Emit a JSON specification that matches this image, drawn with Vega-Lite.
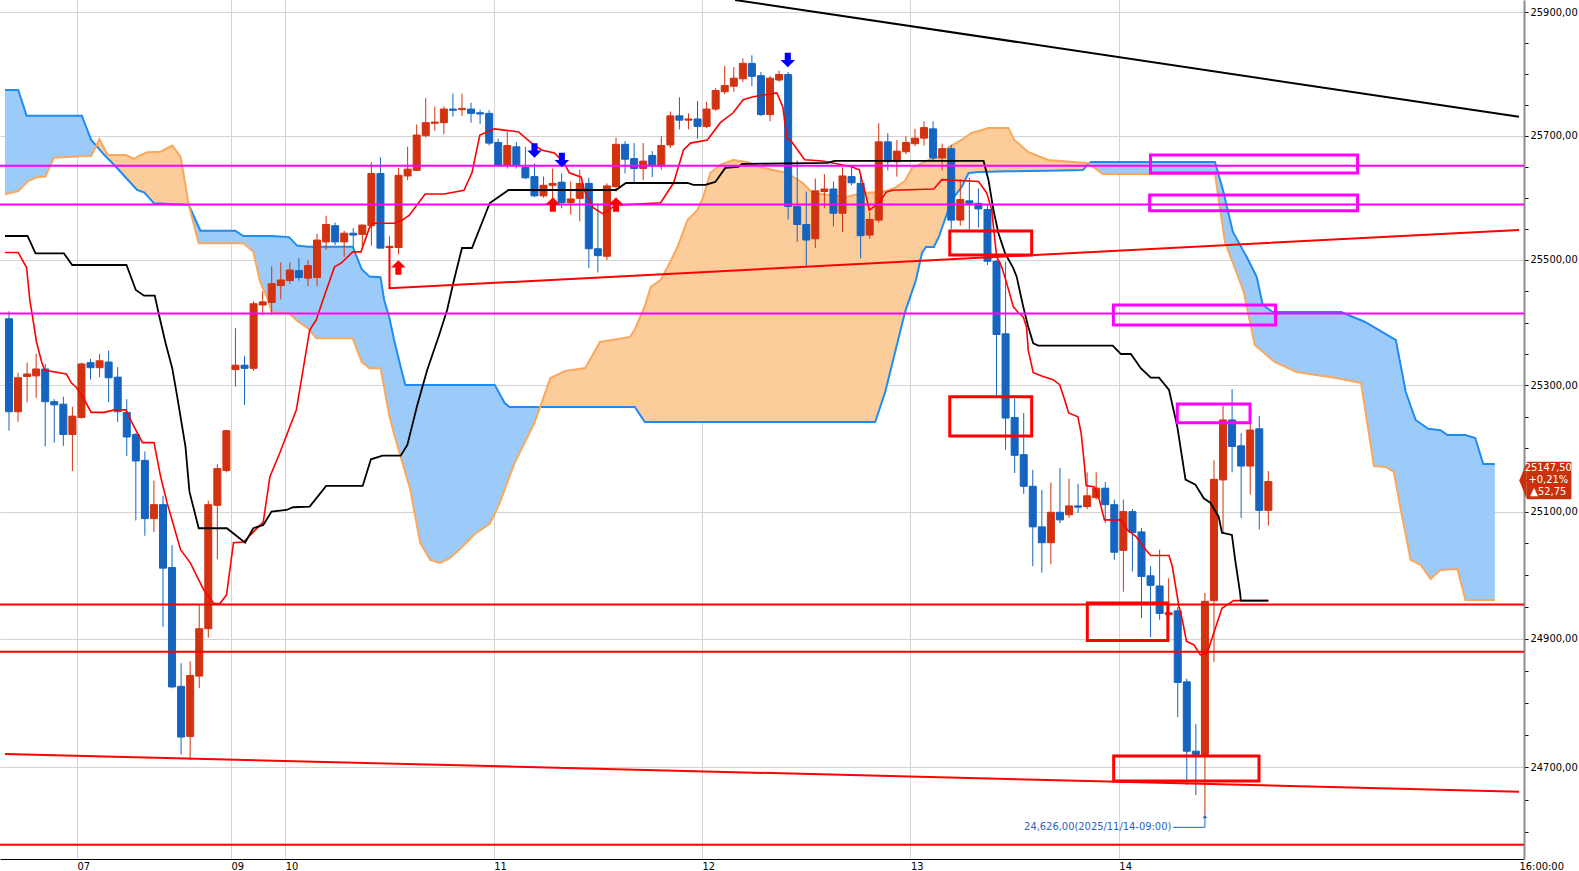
{
"$schema": "https://vega.github.io/schema/vega-lite/v6.json",
"width": 1524, "height": 859,
"autosize": {"type": "none"},
"padding": {"left": 0, "top": 0, "right": 55, "bottom": 12},
"background": "white",
"config": {"view": {"stroke": null}, "font": "DejaVu Sans Condensed, Liberation Sans Narrow, DejaVu Sans, sans-serif"},
"resolve": {"scale": {"color": "independent"}},
"datasets": {
"cloud": [
{"i":-0.44,"a":25773.9,"b":25605.5,"s":1,"k":"b"},{"i":1.02,"a":25773.9,"b":25610.8,"s":1,"k":"b"},{"i":1.94,"a":25732.3,"b":25624.3,"s":1,"k":"b"},{"i":2.12,"a":25732.3,"b":25626.9,"s":1,"k":"b"},{"i":3.04,"a":25732.3,"b":25632.9,"s":1,"k":"b"},{"i":4.02,"a":25732.3,"b":25633.9,"s":1,"k":"b"},{"i":4.97,"a":25732.3,"b":25664.5,"s":1,"k":"b"},{"i":8.04,"a":25732.3,"b":25666.6,"s":1,"k":"b"},{"i":9.07,"a":25693.1,"b":25667.2,"s":1,"k":"b"},{"i":9.63,"a":25683.7,"b":25683.7,"s":1,"k":"b"},
{"i":9.63,"a":25683.7,"b":25683.7,"s":2,"k":"o"},{"i":9.98,"a":25677.9,"b":25694.2,"s":2,"k":"o"},{"i":10.53,"a":25668.8,"b":25678.8,"s":2,"k":"o"},{"i":10.89,"a":25663.5,"b":25668.8,"s":2,"k":"o"},{"i":11.62,"a":25652.7,"b":25668.8,"s":2,"k":"o"},{"i":12.91,"a":25632.2,"b":25668.8,"s":2,"k":"o"},{"i":13.82,"a":25617.7,"b":25662.4,"s":2,"k":"o"},{"i":14.14,"a":25612.4,"b":25665.3,"s":2,"k":"o"},{"i":14.55,"a":25610.5,"b":25668.8,"s":2,"k":"o"},{"i":14.91,"a":25608.7,"b":25671.1,"s":2,"k":"o"},{"i":15.27,"a":25602.9,"b":25673.2,"s":2,"k":"o"},{"i":16.01,"a":25591.0,"b":25673.7,"s":2,"k":"o"},{"i":16.74,"a":25590.5,"b":25674.2,"s":2,"k":"o"},{"i":18.02,"a":25589.6,"b":25683.9,"s":2,"k":"o"},{"i":18.94,"a":25588.9,"b":25666.1,"s":2,"k":"o"},{"i":19.48,"a":25588.6,"b":25620.5,"s":2,"k":"o"},{"i":19.85,"a":25588.3,"b":25588.3,"s":2,"k":"o"},
{"i":19.85,"a":25588.3,"b":25588.3,"s":3,"k":"b"},{"i":20.94,"a":25552.9,"b":25526.8,"s":3,"k":"b"},{"i":21.13,"a":25547.0,"b":25526.8,"s":3,"k":"b"},{"i":24.97,"a":25547.0,"b":25526.8,"s":3,"k":"b"},{"i":25.88,"a":25538.5,"b":25526.8,"s":3,"k":"b"},{"i":26.97,"a":25538.5,"b":25513.3,"s":3,"k":"b"},{"i":27.71,"a":25538.5,"b":25465.3,"s":3,"k":"b"},{"i":28.62,"a":25538.5,"b":25436.0,"s":3,"k":"b"},{"i":28.98,"a":25538.5,"b":25416.4,"s":3,"k":"b"},{"i":30.92,"a":25536.7,"b":25414.8,"s":3,"k":"b"},{"i":31.8,"a":25523.1,"b":25402.8,"s":3,"k":"b"},{"i":33.0,"a":25521.3,"b":25390.9,"s":3,"k":"b"},{"i":33.91,"a":25521.3,"b":25374.9,"s":3,"k":"b"},{"i":37.94,"a":25521.3,"b":25374.9,"s":3,"k":"b"},{"i":38.93,"a":25485.3,"b":25337.3,"s":3,"k":"b"},{"i":39.8,"a":25473.4,"b":25327.1,"s":3,"k":"b"},{"i":41.01,"a":25472.3,"b":25327.1,"s":3,"k":"b"},{"i":41.41,"a":25436.0,"b":25296.9,"s":3,"k":"b"},{"i":41.96,"a":25409.3,"b":25252.9,"s":3,"k":"b"},{"i":42.51,"a":25372.2,"b":25222.8,"s":3,"k":"b"},{"i":43.23,"a":25329.6,"b":25186.8,"s":3,"k":"b"},{"i":43.75,"a":25300.6,"b":25161.4,"s":3,"k":"b"},{"i":44.3,"a":25300.6,"b":25134.2,"s":3,"k":"b"},{"i":45.39,"a":25300.6,"b":25050.6,"s":3,"k":"b"},{"i":46.49,"a":25300.6,"b":25023.9,"s":3,"k":"b"},{"i":47.59,"a":25300.6,"b":25019.2,"s":3,"k":"b"},{"i":48.68,"a":25300.6,"b":25027.0,"s":3,"k":"b"},{"i":49.78,"a":25300.6,"b":25041.2,"s":3,"k":"b"},{"i":51.43,"a":25300.6,"b":25064.8,"s":3,"k":"b"},{"i":53.07,"a":25300.6,"b":25080.6,"s":3,"k":"b"},{"i":53.62,"a":25300.6,"b":25097.1,"s":3,"k":"b"},{"i":54.17,"a":25286.2,"b":25113.7,"s":3,"k":"b"},{"i":54.71,"a":25271.9,"b":25134.7,"s":3,"k":"b"},{"i":55.26,"a":25265.5,"b":25155.9,"s":3,"k":"b"},{"i":55.81,"a":25265.5,"b":25176.9,"s":3,"k":"b"},{"i":58.0,"a":25265.5,"b":25240.2,"s":3,"k":"b"},{"i":58.63,"a":25265.5,"b":25265.5,"s":3,"k":"b"},
{"i":58.63,"a":25265.5,"b":25265.5,"s":4,"k":"o"},{"i":59.76,"a":25265.5,"b":25311.7,"s":4,"k":"o"},{"i":61.4,"a":25265.5,"b":25322.8,"s":4,"k":"o"},{"i":63.6,"a":25265.5,"b":25327.6,"s":4,"k":"o"},{"i":65.24,"a":25265.5,"b":25369.0,"s":4,"k":"o"},{"i":68.53,"a":25265.5,"b":25377.0,"s":4,"k":"o"},{"i":69.08,"a":25265.5,"b":25389.0,"s":4,"k":"o"},{"i":70.18,"a":25241.8,"b":25426.3,"s":4,"k":"o"},{"i":70.83,"a":25241.8,"b":25456.8,"s":4,"k":"o"},{"i":71.93,"a":25241.8,"b":25468.0,"s":4,"k":"o"},{"i":72.7,"a":25241.8,"b":25488.8,"s":4,"k":"o"},{"i":73.79,"a":25241.8,"b":25520.8,"s":4,"k":"o"},{"i":74.89,"a":25241.8,"b":25564.2,"s":4,"k":"o"},{"i":75.99,"a":25241.8,"b":25580.2,"s":4,"k":"o"},{"i":76.64,"a":25241.8,"b":25601.1,"s":4,"k":"o"},{"i":77.41,"a":25241.8,"b":25639.8,"s":4,"k":"o"},{"i":78.51,"a":25241.8,"b":25652.7,"s":4,"k":"o"},{"i":79.93,"a":25241.8,"b":25660.8,"s":4,"k":"o"},{"i":81.47,"a":25241.8,"b":25657.6,"s":4,"k":"o"},{"i":82.89,"a":25241.8,"b":25649.5,"s":4,"k":"o"},{"i":84.32,"a":25241.8,"b":25644.7,"s":4,"k":"o"},{"i":85.86,"a":25241.8,"b":25639.8,"s":4,"k":"o"},{"i":87.61,"a":25241.8,"b":25623.7,"s":4,"k":"o"},{"i":88.71,"a":25241.8,"b":25607.6,"s":4,"k":"o"},{"i":90.57,"a":25241.8,"b":25604.4,"s":4,"k":"o"},{"i":92.43,"a":25241.8,"b":25601.1,"s":4,"k":"o"},{"i":94.19,"a":25241.8,"b":25607.6,"s":4,"k":"o"},{"i":95.61,"a":25241.8,"b":25608.9,"s":4,"k":"o"},{"i":96.71,"a":25289.4,"b":25610.7,"s":4,"k":"o"},{"i":97.81,"a":25353.0,"b":25615.8,"s":4,"k":"o"},{"i":98.9,"a":25416.8,"b":25627.4,"s":4,"k":"o"},{"i":99.67,"a":25449.4,"b":25647.9,"s":4,"k":"o"},{"i":100.11,"a":25468.0,"b":25650.9,"s":4,"k":"o"},{"i":100.77,"a":25511.2,"b":25655.5,"s":4,"k":"o"},{"i":101.21,"a":25520.8,"b":25658.5,"s":4,"k":"o"},{"i":101.54,"a":25520.8,"b":25660.8,"s":4,"k":"o"},{"i":102.08,"a":25520.8,"b":25663.2,"s":4,"k":"o"},{"i":102.63,"a":25536.9,"b":25665.6,"s":4,"k":"o"},{"i":103.4,"a":25569.0,"b":25676.9,"s":4,"k":"o"},{"i":103.73,"a":25582.6,"b":25681.7,"s":4,"k":"o"},{"i":104.06,"a":25596.3,"b":25684.3,"s":4,"k":"o"},{"i":105.15,"a":25617.2,"b":25693.1,"s":4,"k":"o"},{"i":105.92,"a":25639.8,"b":25701.0,"s":4,"k":"o"},{"i":106.25,"a":25640.3,"b":25704.4,"s":4,"k":"o"},{"i":107.02,"a":25641.4,"b":25707.6,"s":4,"k":"o"},{"i":108.11,"a":25641.7,"b":25712.5,"s":4,"k":"o"},{"i":110.31,"a":25642.4,"b":25712.5,"s":4,"k":"o"},{"i":110.96,"a":25642.5,"b":25693.1,"s":4,"k":"o"},{"i":112.5,"a":25643.0,"b":25673.7,"s":4,"k":"o"},{"i":114.69,"a":25643.5,"b":25660.8,"s":4,"k":"o"},{"i":118.53,"a":25644.7,"b":25656.3,"s":4,"k":"o"},{"i":119.19,"a":25655.1,"b":25655.1,"s":4,"k":"o"},
{"i":119.19,"a":25655.1,"b":25655.1,"s":5,"k":"b"},{"i":119.41,"a":25657.6,"b":25652.4,"s":5,"k":"b"},{"i":120.72,"a":25657.6,"b":25638.2,"s":5,"k":"b"},{"i":133.11,"a":25657.6,"b":25638.2,"s":5,"k":"b"},{"i":133.99,"a":25612.4,"b":25550.7,"s":5,"k":"b"},{"i":134.21,"a":25598.9,"b":25528.8,"s":5,"k":"b"},{"i":135.09,"a":25544.9,"b":25495.2,"s":5,"k":"b"},{"i":136.29,"a":25513.4,"b":25448.8,"s":5,"k":"b"},{"i":136.62,"a":25504.8,"b":25425.6,"s":5,"k":"b"},{"i":137.5,"a":25479.2,"b":25364.2,"s":5,"k":"b"},{"i":137.72,"a":25472.8,"b":25361.5,"s":5,"k":"b"},{"i":138.38,"a":25428.0,"b":25353.3,"s":5,"k":"b"},{"i":139.47,"a":25416.8,"b":25339.8,"s":5,"k":"b"},{"i":139.69,"a":25416.8,"b":25337.1,"s":5,"k":"b"},{"i":142.11,"a":25416.8,"b":25321.2,"s":5,"k":"b"},{"i":146.49,"a":25416.8,"b":25311.7,"s":5,"k":"b"},{"i":147.04,"a":25416.8,"b":25310.1,"s":5,"k":"b"},{"i":149.23,"a":25403.6,"b":25303.8,"s":5,"k":"b"},{"i":149.67,"a":25400.9,"b":25263.2,"s":5,"k":"b"},{"i":150.66,"a":25392.6,"b":25172.1,"s":5,"k":"b"},{"i":151.97,"a":25381.4,"b":25170.5,"s":5,"k":"b"},{"i":152.85,"a":25374.1,"b":25162.6,"s":5,"k":"b"},{"i":153.07,"a":25372.2,"b":25145.4,"s":5,"k":"b"},{"i":153.62,"a":25330.8,"b":25102.6,"s":5,"k":"b"},{"i":154.17,"a":25289.4,"b":25063.2,"s":5,"k":"b"},{"i":154.71,"a":25267.2,"b":25023.9,"s":5,"k":"b"},{"i":155.26,"a":25245.0,"b":25020.0,"s":5,"k":"b"},{"i":155.81,"a":25239.4,"b":25016.1,"s":5,"k":"b"},{"i":156.69,"a":25230.7,"b":24998.4,"s":5,"k":"b"},{"i":156.91,"a":25230.7,"b":24994.0,"s":5,"k":"b"},{"i":158.0,"a":25228.7,"b":25008.2,"s":5,"k":"b"},{"i":158.77,"a":25221.2,"b":25008.8,"s":5,"k":"b"},{"i":159.87,"a":25221.2,"b":25009.7,"s":5,"k":"b"},{"i":160.75,"a":25221.2,"b":24961.0,"s":5,"k":"b"},{"i":161.84,"a":25216.5,"b":24961.0,"s":5,"k":"b"},{"i":162.72,"a":25175.3,"b":24961.0,"s":5,"k":"b"},{"i":164.0,"a":25175.3,"b":24961.0,"s":5,"k":"b"}
],
"candles": [
{"i":0,"o":25406,"h":25418,"l":25228,"c":25258},{"i":1,"o":25258,"h":25320,"l":25242,"c":25312},{"i":2,"o":25314,"h":25336,"l":25273,"c":25318},{"i":3,"o":25315,"h":25350,"l":25280,"c":25326},{"i":4,"o":25326,"h":25334,"l":25203,"c":25274},{"i":5,"o":25274,"h":25278,"l":25209,"c":25269},{"i":6,"o":25270,"h":25282,"l":25204,"c":25222},{"i":7,"o":25222,"h":25266,"l":25164,"c":25251},{"i":8,"o":25249,"h":25336,"l":25247,"c":25334},{"i":9,"o":25336,"h":25342,"l":25309,"c":25328},
{"i":10,"o":25328,"h":25350,"l":25313,"c":25339},{"i":11,"o":25337,"h":25355,"l":25273,"c":25312},{"i":12,"o":25313,"h":25329,"l":25242,"c":25258},{"i":13,"o":25257,"h":25278,"l":25188,"c":25218},{"i":14,"o":25222,"h":25224,"l":25086,"c":25180},{"i":15,"o":25181,"h":25195,"l":25062,"c":25089},{"i":16,"o":25089,"h":25149,"l":25068,"c":25111},{"i":17,"o":25111,"h":25125,"l":24919,"c":25011},{"i":18,"o":25012,"h":25047,"l":24823,"c":24825},{"i":19,"o":24826,"h":24862,"l":24720,"c":24747},
{"i":20,"o":24748,"h":24865,"l":24711,"c":24843},{"i":21,"o":24842,"h":24953,"l":24823,"c":24916},{"i":22,"o":24916,"h":25117,"l":24902,"c":25111},{"i":23,"o":25110,"h":25175,"l":25025,"c":25168},{"i":24,"o":25165,"h":25229,"l":25162,"c":25228},{"i":25,"o":25325,"h":25391,"l":25298,"c":25332},{"i":26,"o":25332,"h":25347,"l":25269,"c":25327},{"i":27,"o":25327,"h":25434,"l":25323,"c":25430},{"i":28,"o":25428,"h":25450,"l":25412,"c":25433},{"i":29,"o":25432,"h":25490,"l":25412,"c":25462},
{"i":30,"o":25459,"h":25496,"l":25437,"c":25468},{"i":31,"o":25467,"h":25496,"l":25462,"c":25484},{"i":32,"o":25483,"h":25503,"l":25467,"c":25472},{"i":33,"o":25471,"h":25500,"l":25458,"c":25491},{"i":34,"o":25472,"h":25542,"l":25458,"c":25532},{"i":35,"o":25529,"h":25571,"l":25516,"c":25557},{"i":36,"o":25555,"h":25560,"l":25524,"c":25529},{"i":37,"o":25529,"h":25547,"l":25505,"c":25543},{"i":38,"o":25543,"h":25551,"l":25521,"c":25540},{"i":39,"o":25541,"h":25557,"l":25521,"c":25556},
{"i":40,"o":25555,"h":25657,"l":25523,"c":25639},{"i":41,"o":25639,"h":25665,"l":25519,"c":25519},{"i":42,"o":25520,"h":25538,"l":25516,"c":25522},{"i":43,"o":25520,"h":25648,"l":25509,"c":25636},{"i":44,"o":25635,"h":25682,"l":25628,"c":25646},{"i":45,"o":25644,"h":25718,"l":25643,"c":25701},{"i":46,"o":25700,"h":25761,"l":25697,"c":25721},{"i":47,"o":25720,"h":25747,"l":25708,"c":25722},{"i":48,"o":25721,"h":25747,"l":25702,"c":25743},{"i":49,"o":25743,"h":25768,"l":25731,"c":25741},
{"i":50,"o":25742,"h":25768,"l":25732,"c":25744},{"i":51,"o":25743,"h":25753,"l":25721,"c":25736},{"i":52,"o":25737,"h":25742,"l":25719,"c":25735},{"i":53,"o":25736,"h":25741,"l":25684,"c":25688},{"i":54,"o":25689,"h":25695,"l":25650,"c":25652},{"i":55,"o":25652,"h":25706,"l":25647,"c":25684},{"i":56,"o":25682,"h":25690,"l":25647,"c":25652},{"i":57,"o":25649,"h":25682,"l":25630,"c":25632},{"i":58,"o":25634,"h":25655,"l":25601,"c":25603},{"i":59,"o":25603,"h":25634,"l":25600,"c":25620},
{"i":60,"o":25620,"h":25647,"l":25591,"c":25623},{"i":61,"o":25625,"h":25639,"l":25583,"c":25592},{"i":62,"o":25592,"h":25626,"l":25573,"c":25598},{"i":63,"o":25599,"h":25645,"l":25562,"c":25623},{"i":64,"o":25623,"h":25632,"l":25487,"c":25518},{"i":65,"o":25518,"h":25591,"l":25480,"c":25507},{"i":66,"o":25506,"h":25623,"l":25500,"c":25619},{"i":67,"o":25618,"h":25697,"l":25610,"c":25686},{"i":68,"o":25686,"h":25691,"l":25639,"c":25662},{"i":69,"o":25663,"h":25688,"l":25622,"c":25647},
{"i":70,"o":25647,"h":25688,"l":25628,"c":25659},{"i":71,"o":25668,"h":25675,"l":25633,"c":25651},{"i":72,"o":25651,"h":25699,"l":25645,"c":25684},{"i":73,"o":25685,"h":25739,"l":25680,"c":25732},{"i":74,"o":25732,"h":25762,"l":25710,"c":25725},{"i":75,"o":25725,"h":25736,"l":25710,"c":25727},{"i":76,"o":25727,"h":25756,"l":25695,"c":25715},{"i":77,"o":25715,"h":25755,"l":25712,"c":25743},{"i":78,"o":25743,"h":25777,"l":25740,"c":25773},{"i":79,"o":25771,"h":25813,"l":25767,"c":25781},
{"i":80,"o":25780,"h":25811,"l":25771,"c":25793},{"i":81,"o":25792,"h":25825,"l":25787,"c":25817},{"i":82,"o":25817,"h":25830,"l":25780,"c":25796},{"i":83,"o":25797,"h":25803,"l":25732,"c":25734},{"i":84,"o":25734,"h":25797,"l":25723,"c":25793},{"i":85,"o":25790,"h":25805,"l":25787,"c":25799},{"i":86,"o":25799,"h":25803,"l":25565,"c":25586},{"i":87,"o":25586,"h":25660,"l":25529,"c":25557},{"i":88,"o":25557,"h":25610,"l":25490,"c":25532},{"i":89,"o":25534,"h":25631,"l":25519,"c":25611},
{"i":90,"o":25610,"h":25638,"l":25583,"c":25614},{"i":91,"o":25614,"h":25626,"l":25554,"c":25575},{"i":92,"o":25575,"h":25649,"l":25545,"c":25635},{"i":93,"o":25634,"h":25652,"l":25620,"c":25624},{"i":94,"o":25623,"h":25636,"l":25503,"c":25539},{"i":95,"o":25540,"h":25577,"l":25534,"c":25565},{"i":96,"o":25564,"h":25720,"l":25560,"c":25690},{"i":97,"o":25690,"h":25704,"l":25644,"c":25658},{"i":98,"o":25658,"h":25693,"l":25634,"c":25675},{"i":99,"o":25674,"h":25699,"l":25670,"c":25689},
{"i":100,"o":25687,"h":25711,"l":25683,"c":25696},{"i":101,"o":25696,"h":25723,"l":25684,"c":25713},{"i":102,"o":25711,"h":25723,"l":25660,"c":25664},{"i":103,"o":25664,"h":25687,"l":25644,"c":25679},{"i":104,"o":25679,"h":25685,"l":25549,"c":25564},{"i":105,"o":25564,"h":25630,"l":25555,"c":25597},{"i":106,"o":25595,"h":25632,"l":25549,"c":25591},{"i":107,"o":25591,"h":25615,"l":25552,"c":25582},{"i":108,"o":25581,"h":25590,"l":25492,"c":25498},{"i":109,"o":25498,"h":25500,"l":25282,"c":25381},
{"i":110,"o":25382,"h":25497,"l":25198,"c":25248},{"i":111,"o":25249,"h":25279,"l":25161,"c":25189},{"i":112,"o":25190,"h":25256,"l":25128,"c":25140},{"i":113,"o":25140,"h":25166,"l":25014,"c":25076},{"i":114,"o":25076,"h":25134,"l":25004,"c":25051},{"i":115,"o":25051,"h":25146,"l":25017,"c":25099},{"i":116,"o":25099,"h":25169,"l":25082,"c":25087},{"i":117,"o":25095,"h":25152,"l":25090,"c":25109},{"i":118,"o":25109,"h":25144,"l":25098,"c":25107},{"i":119,"o":25108,"h":25162,"l":25104,"c":25125},
{"i":120,"o":25122,"h":25162,"l":25119,"c":25137},{"i":121,"o":25137,"h":25147,"l":25082,"c":25111},{"i":122,"o":25111,"h":25119,"l":25024,"c":25036},{"i":123,"o":25039,"h":25119,"l":24974,"c":25100},{"i":124,"o":25100,"h":25104,"l":25006,"c":25067},{"i":125,"o":25068,"h":25074,"l":24933,"c":24998},{"i":126,"o":24999,"h":25014,"l":24903,"c":24984},{"i":127,"o":24983,"h":25040,"l":24930,"c":24940},{"i":128,"o":24938,"h":24995,"l":24935,"c":24941},{"i":129,"o":24944,"h":24950,"l":24778,"c":24832},
{"i":130,"o":24833,"h":24838,"l":24673,"c":24725},{"i":131,"o":24725,"h":24767,"l":24657,"c":24720},{"i":132,"o":24720,"h":24972,"l":24626,"c":24959},{"i":133,"o":24960,"h":25181,"l":24864,"c":25151},{"i":134,"o":25150,"h":25268,"l":25066,"c":25245},{"i":135,"o":25245,"h":25294,"l":25162,"c":25203},{"i":136,"o":25204,"h":25224,"l":25090,"c":25172},{"i":137,"o":25172,"h":25240,"l":25127,"c":25229},{"i":138,"o":25231,"h":25251,"l":25072,"c":25102},{"i":139,"o":25102,"h":25164,"l":25078,"c":25147.5}
],
"tenkan": [
{"t":-0.44,"v":25512},{"t":1.02,"v":25512},{"t":1.94,"v":25488},{"t":2.3,"v":25436},{"t":2.66,"v":25404},{"t":3.04,"v":25369},{"t":3.59,"v":25338},{"t":3.95,"v":25324},{"t":6.33,"v":25318},{"t":6.88,"v":25304},{"t":7.42,"v":25297},{"t":8.33,"v":25277},{"t":9.07,"v":25257},{"t":10.53,"v":25257},{"t":11.62,"v":25261},{"t":12.9,"v":25261},{"t":13.63,"v":25239},{"t":14.73,"v":25209},{"t":16.01,"v":25209},{"t":16.74,"v":25155},{"t":17.47,"v":25113},{"t":18.94,"v":25040},{"t":20.03,"v":25019},{"t":21.49,"v":24977},{"t":22.59,"v":24956},{"t":23.25,"v":24955},{"t":24.01,"v":24969},{"t":24.78,"v":25051},{"t":25.88,"v":25052},{"t":28.07,"v":25084},{"t":28.8,"v":25155},{"t":29.9,"v":25193},{"t":31.72,"v":25261},{"t":33.19,"v":25388},{"t":33.91,"v":25404},{"t":34.65,"v":25436},{"t":35.93,"v":25489},{"t":36.66,"v":25495},{"t":37.94,"v":25513},{"t":38.85,"v":25513},{"t":39.77,"v":25551},{"t":40.13,"v":25559},{"t":42.54,"v":25559},{"t":43.42,"v":25564},{"t":44.19,"v":25572},{"t":45.94,"v":25606},{"t":48.03,"v":25606},{"t":50.22,"v":25612},{"t":51.1,"v":25640},{"t":51.97,"v":25701},{"t":53.62,"v":25711},{"t":56.25,"v":25706},{"t":57.68,"v":25688},{"t":58.77,"v":25677},{"t":60.2,"v":25672},{"t":61.29,"v":25656},{"t":61.84,"v":25640},{"t":63.16,"v":25633},{"t":63.49,"v":25612},{"t":64.47,"v":25584},{"t":65.57,"v":25574},{"t":66.99,"v":25588},{"t":71.93,"v":25592},{"t":73.36,"v":25624},{"t":74.45,"v":25677},{"t":75.22,"v":25688},{"t":77.08,"v":25693},{"t":78.51,"v":25721},{"t":79.93,"v":25737},{"t":81.03,"v":25758},{"t":82.13,"v":25763},{"t":84.76,"v":25769},{"t":85.42,"v":25746},{"t":85.86,"v":25696},{"t":86.4,"v":25690},{"t":87.28,"v":25672},{"t":87.83,"v":25661},{"t":89.8,"v":25659},{"t":92.98,"v":25650},{"t":93.86,"v":25645},{"t":94.19,"v":25625},{"t":94.63,"v":25601},{"t":94.96,"v":25580},{"t":96.05,"v":25592},{"t":96.82,"v":25609},{"t":97.48,"v":25612},{"t":102.08,"v":25614},{"t":102.96,"v":25629},{"t":107.02,"v":25626},{"t":107.93,"v":25607},{"t":108.48,"v":25580},{"t":108.66,"v":25553},{"t":109.02,"v":25505},{"t":109.57,"v":25489},{"t":110.12,"v":25463},{"t":110.86,"v":25425},{"t":111.4,"v":25416},{"t":111.95,"v":25409},{"t":112.31,"v":25393},{"t":112.5,"v":25356},{"t":113.05,"v":25320},{"t":114.14,"v":25314},{"t":115.24,"v":25309},{"t":115.97,"v":25301},{"t":116.52,"v":25277},{"t":116.96,"v":25256},{"t":117.98,"v":25250},{"t":118.34,"v":25224},{"t":118.72,"v":25171},{"t":118.89,"v":25141},{"t":119.81,"v":25139},{"t":120.36,"v":25118},{"t":120.91,"v":25087},{"t":122.73,"v":25087},{"t":123.46,"v":25071},{"t":124.37,"v":25061},{"t":125.47,"v":25040},{"t":126.02,"v":25031},{"t":128.04,"v":25031},{"t":128.4,"v":25014},{"t":129.13,"v":24951},{"t":129.5,"v":24930},{"t":129.97,"v":24896},{"t":130.78,"v":24891},{"t":131.5,"v":24875},{"t":132.24,"v":24878},{"t":132.97,"v":24909},{"t":133.88,"v":24948},{"t":135.17,"v":24960},{"t":139,"v":24960}
],
"kijun": [
{"t":-0.44,"v":25538.5},{"t":2.05,"v":25538.5},{"t":2.93,"v":25510.7},{"t":6.06,"v":25510.7},{"t":6.98,"v":25492},{"t":12.97,"v":25492},{"t":14.0,"v":25452},{"t":14.91,"v":25442.9},{"t":16.09,"v":25442.9},{"t":16.56,"v":25412.1},{"t":17.29,"v":25366.9},{"t":18.02,"v":25327.3},{"t":18.57,"v":25282},{"t":19.48,"v":25202.6},{"t":19.92,"v":25131.5},{"t":20.94,"v":25073.8},{"t":24.05,"v":25073.8},{"t":26.06,"v":25051.1},{"t":26.97,"v":25073.8},{"t":28.07,"v":25079},{"t":28.98,"v":25100},{"t":30.63,"v":25102.6},{"t":31.36,"v":25106.9},{"t":33.19,"v":25107.8},{"t":35.01,"v":25140.5},{"t":39.04,"v":25140.5},{"t":39.95,"v":25182.7},{"t":41.23,"v":25188.4},{"t":43.23,"v":25188.4},{"t":43.97,"v":25205.4},{"t":45.07,"v":25268.8},{"t":46.16,"v":25324.4},{"t":47.48,"v":25380.1},{"t":48.36,"v":25420},{"t":49.12,"v":25468},{"t":50.0,"v":25519.2},{"t":51.1,"v":25519.2},{"t":53.07,"v":25591.5},{"t":55.15,"v":25612.4},{"t":67.0,"v":25612.4},{"t":68.09,"v":25623.7},{"t":74.89,"v":25623.7},{"t":75.55,"v":25620.5},{"t":76.86,"v":25620.5},{"t":77.96,"v":25625.3},{"t":79.06,"v":25647.9},{"t":80.48,"v":25649.5},{"t":80.92,"v":25654.3},{"t":90.35,"v":25656},{"t":91.12,"v":25659.2},{"t":107.57,"v":25659.2},{"t":108.11,"v":25628.6},{"t":108.66,"v":25580.2},{"t":109.21,"v":25542.8},{"t":109.95,"v":25510.7},{"t":110.86,"v":25486.7},{"t":111.22,"v":25473.3},{"t":111.95,"v":25425.3},{"t":112.5,"v":25393.3},{"t":113.05,"v":25366.9},{"t":113.6,"v":25363.1},{"t":121.82,"v":25363.1},{"t":122.73,"v":25349.8},{"t":123.83,"v":25349.8},{"t":124.92,"v":25327.3},{"t":126.02,"v":25312.3},{"t":126.94,"v":25312.3},{"t":128.04,"v":25292.6},{"t":128.95,"v":25234.4},{"t":129.86,"v":25150.6},{"t":130.95,"v":25142.7},{"t":131.87,"v":25121.1},{"t":132.6,"v":25114.1},{"t":133.52,"v":25092},{"t":133.88,"v":25066.8},{"t":134.98,"v":25063.3},{"t":135.34,"v":25024},{"t":135.89,"v":24971.6},{"t":135.96,"v":24960},{"t":139,"v":24960}
],
"hlines": [
{"v":25651.5,"c":"m"},{"v":25589,"c":"m"},{"v":25414.4,"c":"m"},{"v":24954,"c":"r"},{"v":24880,"c":"r"},{"v":24580,"c":"r"}
],
"trends": [
{"t":42,"v":25521.3,"g":"r1","k":1},{"t":42,"v":25454.7,"g":"r1","k":2},{"t":166.667,"v":25548.1,"g":"r1","k":3},
{"t":-0.44,"v":24720.6,"g":"r2","k":1},{"t":166.667,"v":24662.2,"g":"r2","k":2},
{"t":80.15,"v":25920,"g":"bk","k":1},{"t":166.667,"v":25730.6,"g":"bk","k":2}
],
"boxes": [
{"x1":103.84,"x2":112.88,"y1":25546.5,"y2":25508.0,"c":"r"},
{"x1":103.84,"x2":112.88,"y1":25281.9,"y2":25219.6,"c":"r"},
{"x1":119.02,"x2":127.91,"y1":24956.3,"y2":24897.4,"c":"r"},
{"x1":121.93,"x2":137.97,"y1":24717.6,"y2":24678.8,"c":"r"},
{"x1":125.99,"x2":148.85,"y1":25668.8,"y2":25639.8,"c":"m"},
{"x1":125.9,"x2":148.85,"y1":25604.4,"y2":25579.1,"c":"m"},
{"x1":121.9,"x2":139.8,"y1":25428.0,"y2":25396.1,"c":"m"},
{"x1":128.95,"x2":136.98,"y1":25270.3,"y2":25240.7,"c":"m"}
],
"downs": [{"t":58.0,"v":25676.1},{"t":61.02,"v":25660.8},{"t":85.96,"v":25822.5}],
"ups": [{"t":42.98,"v":25488.0},{"t":60.03,"v":25589.1},{"t":67.0,"v":25589.1}],
"note": [{"t":128.29,"v":24608,"s":"24,626,00(2025/11/14-09:00)"}],
"link": [{"t":128.51,"v":24607,"k":1},{"t":132,"v":24607,"k":2},{"t":132,"v":24621,"k":3}],
"tip": [{"t":132,"v":24624}],
"pbox": [{"x1":167.54,"x2":172.45,"y1":25178.9,"y2":25119.5}],
"pnotch": [{"t":167.1,"v":25149}],
"ptext": [{"t":169.9,"v":25168.5,"s":"25147,50"},{"t":169.9,"v":25150.0,"s":"+0,21%"},{"t":169.9,"v":25131.5,"s":"▲52,75"}]
},
"layer": [
{
"data": {"name": "cloud"},
"mark": {"type": "area"},
"encoding": {
"x": {"field": "i", "type": "quantitative", "title": null, "scale": {"domain": [-0.4386, 166.667], "nice": false, "zero": false},
"axis": {"title": null, "orient": "bottom", "values": [7.5, 24.5, 30.5, 53.5, 76.5, 99.5, 122.5, 166.667],
"labelExpr": "datum.value == 7.5 ? '07' : datum.value == 24.5 ? '09' : datum.value == 30.5 ? '10' : datum.value == 53.5 ? '11' : datum.value == 76.5 ? '12' : datum.value == 99.5 ? '13' : datum.value == 122.5 ? '14' : '16:00:00'",
"ticks": false, "domainColor": "#000000", "domainWidth": 1, "grid": true, "gridColor": "#d4d4d4", "gridWidth": 1,
"gridOpacity": {"condition": {"test": "datum.value > 166", "value": 0}, "value": 1},
"labelAlign": "left", "labelBaseline": "top", "labelPadding": 1, "labelFontSize": 11, "labelColor": "#000000",
"labelOverlap": false, "labelFlush": false, "labelBound": false}},
"y": {"field": "a", "type": "quantitative", "title": null, "stack": null, "scale": {"type": "log", "domain": [24558.1, 25920], "nice": false, "zero": false},
"axis": {"title": null, "orient": "right",
"values": [24600,24650,24700,24750,24800,24850,24900,24950,25000,25050,25100,25150,25200,25250,25300,25350,25400,25450,25500,25550,25600,25650,25700,25750,25800,25850,25900],
"labelExpr": "(25900 - datum.value) % 200 == 0 ? format(datum.value, 'd') + ',00' : ''",
"grid": true, "gridColor": "#d4d4d4", "gridWidth": 1,
"gridOpacity": {"condition": {"test": "(25900 - datum.value) % 200 == 0", "value": 1}, "value": 0},
"domainColor": "#8c8c8c", "domainWidth": 2, "tickColor": "#000000", "tickSize": 4, "tickWidth": 1,
"labelPadding": 2, "labelFontSize": 11, "labelColor": "#000000", "labelBaseline": "middle",
"labelOverlap": false, "labelFlush": false, "labelBound": false}},
"y2": {"field": "b"},
"detail": {"field": "s"},
"color": {"field": "k", "type": "nominal", "scale": {"domain": ["b", "o"], "range": ["#9dcbf9", "#fdcc9b"]}, "legend": null}
}
},
{
"data": {"name": "cloud"},
"mark": {"type": "line", "color": "#1e8cf0", "strokeWidth": 2},
"encoding": {
"x": {"field": "i", "type": "quantitative", "title": null, "scale": {"domain": [-0.4386, 166.667], "nice": false, "zero": false}},
"y": {"field": "a", "type": "quantitative", "title": null, "scale": {"type": "log", "domain": [24558.1, 25920], "nice": false, "zero": false}}
}
},
{
"data": {"name": "cloud"},
"mark": {"type": "line", "color": "#f9a85c", "strokeWidth": 2},
"encoding": {
"x": {"field": "i", "type": "quantitative", "title": null, "scale": {"domain": [-0.4386, 166.667], "nice": false, "zero": false}},
"y": {"field": "b", "type": "quantitative", "title": null, "scale": {"type": "log", "domain": [24558.1, 25920], "nice": false, "zero": false}}
}
},
{
"data": {"name": "candles"},
"mark": {"type": "rule", "strokeWidth": 1},
"encoding": {
"x": {"field": "i", "type": "quantitative", "title": null, "scale": {"domain": [-0.4386, 166.667], "nice": false, "zero": false}},
"y": {"field": "l", "type": "quantitative", "title": null, "scale": {"type": "log", "domain": [24558.1, 25920], "nice": false, "zero": false}},
"y2": {"field": "h"},
"color": {"condition": {"test": "datum.c >= datum.o", "value": "#d2320f"}, "value": "#1464c0"}
}
},
{
"data": {"name": "candles"},
"mark": {"type": "bar", "size": 7, "strokeWidth": 1},
"encoding": {
"x": {"field": "i", "type": "quantitative", "title": null, "scale": {"domain": [-0.4386, 166.667], "nice": false, "zero": false}},
"y": {"field": "o", "type": "quantitative", "title": null, "stack": null, "scale": {"type": "log", "domain": [24558.1, 25920], "nice": false, "zero": false}},
"y2": {"field": "c"},
"color": {"condition": {"test": "datum.c >= datum.o", "value": "#d2320f"}, "value": "#1464c0"},
"stroke": {"condition": {"test": "datum.c >= datum.o", "value": "#d2320f"}, "value": "#1464c0"}
}
},
{
"data": {"name": "tenkan"},
"mark": {"type": "line", "color": "#ff0000", "strokeWidth": 1.6},
"encoding": {
"x": {"field": "t", "type": "quantitative", "title": null, "scale": {"domain": [-0.4386, 166.667], "nice": false, "zero": false}},
"y": {"field": "v", "type": "quantitative", "title": null, "scale": {"type": "log", "domain": [24558.1, 25920], "nice": false, "zero": false}}
}
},
{
"data": {"name": "kijun"},
"mark": {"type": "line", "color": "#000000", "strokeWidth": 1.8},
"encoding": {
"x": {"field": "t", "type": "quantitative", "title": null, "scale": {"domain": [-0.4386, 166.667], "nice": false, "zero": false}},
"y": {"field": "v", "type": "quantitative", "title": null, "scale": {"type": "log", "domain": [24558.1, 25920], "nice": false, "zero": false}}
}
},
{
"data": {"name": "hlines"},
"mark": {"type": "rule", "strokeWidth": 2},
"encoding": {
"y": {"field": "v", "type": "quantitative", "title": null, "scale": {"type": "log", "domain": [24558.1, 25920], "nice": false, "zero": false}},
"color": {"field": "c", "type": "nominal", "scale": {"domain": ["m", "r"], "range": ["#ff00ff", "#ff0000"]}, "legend": null}
}
},
{
"data": {"name": "trends"},
"mark": {"type": "line", "strokeWidth": 2},
"encoding": {
"x": {"field": "t", "type": "quantitative", "title": null, "scale": {"domain": [-0.4386, 166.667], "nice": false, "zero": false}},
"y": {"field": "v", "type": "quantitative", "title": null, "scale": {"type": "log", "domain": [24558.1, 25920], "nice": false, "zero": false}},
"detail": {"field": "g"},
"order": {"field": "k"},
"color": {"field": "g", "type": "nominal", "scale": {"domain": ["r1", "r2", "bk"], "range": ["#ff0000", "#ff0000", "#000000"]}, "legend": null}
}
},
{
"data": {"name": "boxes"},
"mark": {"type": "rect", "filled": false, "strokeWidth": 3},
"encoding": {
"x": {"field": "x1", "type": "quantitative", "title": null, "scale": {"domain": [-0.4386, 166.667], "nice": false, "zero": false}},
"x2": {"field": "x2"},
"y": {"field": "y1", "type": "quantitative", "title": null, "scale": {"type": "log", "domain": [24558.1, 25920], "nice": false, "zero": false}},
"y2": {"field": "y2"},
"color": {"field": "c", "type": "nominal", "scale": {"domain": ["m", "r"], "range": ["#ff00ff", "#ff0000"]}, "legend": null}
}
},
{
"data": {"name": "downs"},
"mark": {"type": "point", "filled": true, "opacity": 1, "size": 210, "color": "#0000ff", "shape": "M-0.42,-1 L0.42,-1 L0.42,0 L1,0 L0,1 L-1,0 L-0.42,0 Z"},
"encoding": {
"x": {"field": "t", "type": "quantitative", "title": null, "scale": {"domain": [-0.4386, 166.667], "nice": false, "zero": false}},
"y": {"field": "v", "type": "quantitative", "title": null, "scale": {"type": "log", "domain": [24558.1, 25920], "nice": false, "zero": false}}
}
},
{
"data": {"name": "ups"},
"mark": {"type": "point", "filled": true, "opacity": 1, "size": 210, "color": "#ff0000", "shape": "M-0.42,1 L0.42,1 L0.42,0 L1,0 L0,-1 L-1,0 L-0.42,0 Z"},
"encoding": {
"x": {"field": "t", "type": "quantitative", "title": null, "scale": {"domain": [-0.4386, 166.667], "nice": false, "zero": false}},
"y": {"field": "v", "type": "quantitative", "title": null, "scale": {"type": "log", "domain": [24558.1, 25920], "nice": false, "zero": false}}
}
},
{
"data": {"name": "note"},
"mark": {"type": "text", "align": "right", "baseline": "middle", "fontSize": 11, "color": "#2a62c4"},
"encoding": {
"x": {"field": "t", "type": "quantitative", "title": null, "scale": {"domain": [-0.4386, 166.667], "nice": false, "zero": false}},
"y": {"field": "v", "type": "quantitative", "title": null, "scale": {"type": "log", "domain": [24558.1, 25920], "nice": false, "zero": false}},
"text": {"field": "s"}
}
},
{
"data": {"name": "link"},
"mark": {"type": "line", "color": "#2a62c4", "strokeWidth": 1},
"encoding": {
"x": {"field": "t", "type": "quantitative", "title": null, "scale": {"domain": [-0.4386, 166.667], "nice": false, "zero": false}},
"y": {"field": "v", "type": "quantitative", "title": null, "scale": {"type": "log", "domain": [24558.1, 25920], "nice": false, "zero": false}},
"order": {"field": "k"}
}
},
{
"data": {"name": "tip"},
"mark": {"type": "point", "shape": "triangle-up", "filled": true, "opacity": 1, "size": 18, "color": "#2a62c4"},
"encoding": {
"x": {"field": "t", "type": "quantitative", "title": null, "scale": {"domain": [-0.4386, 166.667], "nice": false, "zero": false}},
"y": {"field": "v", "type": "quantitative", "title": null, "scale": {"type": "log", "domain": [24558.1, 25920], "nice": false, "zero": false}}
}
},
{
"data": {"name": "pbox"},
"mark": {"type": "rect", "color": "#c9310b"},
"encoding": {
"x": {"field": "x1", "type": "quantitative", "title": null, "scale": {"domain": [-0.4386, 166.667], "nice": false, "zero": false}},
"x2": {"field": "x2"},
"y": {"field": "y1", "type": "quantitative", "title": null, "scale": {"type": "log", "domain": [24558.1, 25920], "nice": false, "zero": false}},
"y2": {"field": "y2"}
}
},
{
"data": {"name": "pnotch"},
"mark": {"type": "point", "filled": true, "opacity": 1, "size": 1369, "color": "#c9310b", "shape": "M0.21,-1 L-0.2,0 L0.21,1 Z"},
"encoding": {
"x": {"field": "t", "type": "quantitative", "title": null, "scale": {"domain": [-0.4386, 166.667], "nice": false, "zero": false}},
"y": {"field": "v", "type": "quantitative", "title": null, "scale": {"type": "log", "domain": [24558.1, 25920], "nice": false, "zero": false}}
}
},
{
"data": {"name": "ptext"},
"mark": {"type": "text", "align": "center", "baseline": "middle", "fontSize": 11, "color": "#ffffff"},
"encoding": {
"x": {"field": "t", "type": "quantitative", "title": null, "scale": {"domain": [-0.4386, 166.667], "nice": false, "zero": false}},
"y": {"field": "v", "type": "quantitative", "title": null, "scale": {"type": "log", "domain": [24558.1, 25920], "nice": false, "zero": false}},
"text": {"field": "s"}
}
}
]
}
